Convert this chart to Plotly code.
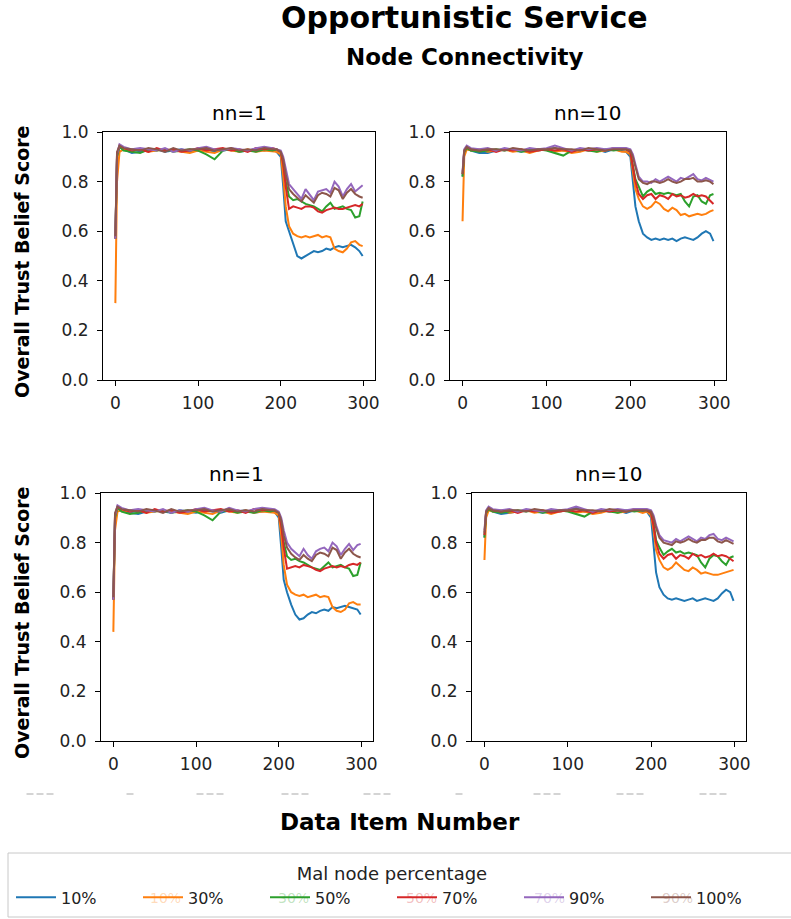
import plotly.graph_objects as go

# ---------------- data ----------------
X = [0, 2, 5, 10, 20, 30, 40, 50, 60, 70, 80, 90, 100, 110, 120, 130, 140, 150, 160, 170, 180, 190,
     195, 200, 203, 206,
     210, 215, 220, 225, 230, 235, 240, 245, 250, 255, 260, 265, 270, 275, 280, 285, 290, 295, 299]

SERIES_NAMES = ["10%", "30%", "50%", "70%", "90%", "100%"]
COLORS = ["#1f77b4", "#ff7f0e", "#2ca02c", "#d62728", "#9467bd", "#8c564b"]
GHOST_COLORS = ["rgba(255,127,14,0.30)", "rgba(44,160,44,0.30)", "rgba(214,39,40,0.30)",
                "rgba(148,103,189,0.30)", "rgba(140,86,75,0.30)"]

# top-left: nn=1
tl_10 = [0.57, 0.90, 0.94, 0.93, 0.915, 0.92, 0.925, 0.93, 0.92, 0.925, 0.93, 0.92, 0.925, 0.93, 0.92, 0.925, 0.93, 0.92, 0.925, 0.93, 0.925, 0.93,
         0.92, 0.90, 0.78, 0.64,
         0.60, 0.55, 0.50, 0.49, 0.50, 0.51, 0.52, 0.515, 0.52, 0.53, 0.525, 0.535, 0.54, 0.535, 0.54, 0.545, 0.535, 0.52, 0.50]
tl_30 = [0.31, 0.80, 0.92, 0.93, 0.925, 0.93, 0.92, 0.925, 0.93, 0.925, 0.92, 0.915, 0.925, 0.92, 0.915, 0.93, 0.925, 0.92, 0.93, 0.92, 0.925, 0.92,
         0.92, 0.91, 0.82, 0.70,
         0.62, 0.59, 0.58, 0.575, 0.58, 0.575, 0.58, 0.585, 0.575, 0.58, 0.575, 0.53, 0.52, 0.515, 0.53, 0.555, 0.56, 0.545, 0.54]
tl_50 = [0.57, 0.90, 0.94, 0.925, 0.92, 0.915, 0.93, 0.925, 0.93, 0.92, 0.925, 0.93, 0.925, 0.91, 0.89, 0.925, 0.93, 0.92, 0.925, 0.92, 0.93, 0.925,
         0.93, 0.92, 0.88, 0.80,
         0.74, 0.725, 0.73, 0.72, 0.71, 0.705, 0.70, 0.69, 0.68, 0.70, 0.715, 0.69, 0.695, 0.70, 0.69, 0.685, 0.655, 0.66, 0.72]
tl_70 = [0.57, 0.91, 0.945, 0.935, 0.925, 0.93, 0.92, 0.935, 0.925, 0.93, 0.92, 0.925, 0.935, 0.925, 0.93, 0.935, 0.925, 0.93, 0.92, 0.935, 0.93, 0.935,
         0.93, 0.92, 0.87, 0.78,
         0.69, 0.70, 0.695, 0.69, 0.70, 0.70, 0.695, 0.68, 0.675, 0.685, 0.69, 0.695, 0.69, 0.69, 0.695, 0.70, 0.705, 0.70, 0.71]
tl_90 = [0.57, 0.91, 0.95, 0.94, 0.93, 0.935, 0.93, 0.925, 0.935, 0.92, 0.93, 0.925, 0.935, 0.94, 0.93, 0.925, 0.935, 0.93, 0.925, 0.935, 0.94, 0.935,
         0.93, 0.925, 0.90, 0.85,
         0.79, 0.77, 0.75, 0.73, 0.77, 0.745, 0.725, 0.76, 0.765, 0.77, 0.755, 0.80, 0.78, 0.74, 0.77, 0.79, 0.76, 0.775, 0.785]
tl_100 = [0.58, 0.92, 0.945, 0.935, 0.93, 0.925, 0.935, 0.93, 0.92, 0.935, 0.925, 0.93, 0.93, 0.935, 0.925, 0.93, 0.935, 0.925, 0.93, 0.925, 0.935, 0.93,
          0.93, 0.92, 0.89, 0.83,
          0.77, 0.75, 0.735, 0.72, 0.745, 0.73, 0.715, 0.745, 0.755, 0.75, 0.74, 0.775, 0.765, 0.73, 0.755, 0.77, 0.75, 0.74, 0.735]

# top-right: nn=10
tr_10 = [0.82, 0.92, 0.935, 0.925, 0.915, 0.915, 0.925, 0.93, 0.925, 0.92, 0.93, 0.925, 0.93, 0.935, 0.925, 0.92, 0.93, 0.925, 0.93, 0.92, 0.93, 0.925,
         0.92, 0.90, 0.80, 0.70,
         0.64, 0.59, 0.575, 0.565, 0.57, 0.565, 0.57, 0.565, 0.57, 0.56, 0.57, 0.575, 0.57, 0.565, 0.575, 0.59, 0.60, 0.59, 0.56]
tr_30 = [0.64, 0.90, 0.93, 0.925, 0.93, 0.92, 0.925, 0.93, 0.92, 0.925, 0.915, 0.925, 0.93, 0.92, 0.925, 0.915, 0.92, 0.93, 0.92, 0.925, 0.93, 0.92,
         0.92, 0.91, 0.84, 0.77,
         0.73, 0.70, 0.69, 0.70, 0.72, 0.71, 0.69, 0.68, 0.695, 0.685, 0.665, 0.67, 0.66, 0.665, 0.67, 0.665, 0.67, 0.68, 0.685]
tr_50 = [0.82, 0.92, 0.935, 0.925, 0.92, 0.925, 0.93, 0.925, 0.93, 0.92, 0.925, 0.93, 0.925, 0.915, 0.905, 0.925, 0.93, 0.925, 0.92, 0.93, 0.925, 0.93,
         0.93, 0.92, 0.87, 0.81,
         0.78, 0.74, 0.76, 0.77, 0.75, 0.755, 0.75, 0.755, 0.75, 0.745, 0.75, 0.72, 0.70, 0.74, 0.745, 0.72, 0.71, 0.745, 0.75]
tr_70 = [0.83, 0.925, 0.94, 0.93, 0.925, 0.93, 0.92, 0.93, 0.925, 0.93, 0.92, 0.925, 0.93, 0.925, 0.93, 0.92, 0.93, 0.925, 0.93, 0.925, 0.935, 0.93,
         0.93, 0.92, 0.86, 0.80,
         0.75, 0.73, 0.745, 0.75, 0.73, 0.745, 0.74, 0.73, 0.75, 0.74, 0.745, 0.735, 0.74, 0.75, 0.74, 0.745, 0.74, 0.725, 0.71]
tr_90 = [0.84, 0.93, 0.945, 0.935, 0.93, 0.935, 0.925, 0.935, 0.93, 0.925, 0.935, 0.93, 0.935, 0.945, 0.935, 0.925, 0.935, 0.93, 0.935, 0.93, 0.935, 0.935,
         0.935, 0.93, 0.91, 0.87,
         0.82, 0.80, 0.80, 0.795, 0.81, 0.80, 0.81, 0.82, 0.81, 0.80, 0.815, 0.81, 0.82, 0.83, 0.81, 0.805, 0.815, 0.805, 0.80]
tr_100 = [0.83, 0.925, 0.94, 0.93, 0.925, 0.93, 0.93, 0.925, 0.935, 0.93, 0.925, 0.93, 0.93, 0.935, 0.93, 0.93, 0.925, 0.935, 0.93, 0.925, 0.93, 0.93,
          0.93, 0.925, 0.90, 0.86,
          0.81, 0.795, 0.79, 0.80, 0.80, 0.795, 0.80, 0.81, 0.80, 0.795, 0.80, 0.81, 0.81, 0.815, 0.80, 0.80, 0.805, 0.80, 0.79]

# bottom-left: nn=1
bl_10 = [0.57, 0.90, 0.94, 0.93, 0.92, 0.915, 0.925, 0.93, 0.925, 0.92, 0.93, 0.925, 0.92, 0.93, 0.925, 0.92, 0.93, 0.925, 0.93, 0.92, 0.925, 0.93,
         0.925, 0.90, 0.78, 0.65,
         0.60, 0.55, 0.51, 0.49, 0.495, 0.51, 0.52, 0.515, 0.525, 0.53, 0.525, 0.54, 0.535, 0.54, 0.545, 0.54, 0.535, 0.53, 0.51]
bl_30 = [0.44, 0.85, 0.925, 0.93, 0.925, 0.93, 0.92, 0.925, 0.93, 0.925, 0.92, 0.915, 0.925, 0.92, 0.915, 0.93, 0.925, 0.92, 0.93, 0.92, 0.925, 0.92,
         0.92, 0.91, 0.83, 0.71,
         0.63, 0.60, 0.59, 0.585, 0.59, 0.58, 0.585, 0.59, 0.58, 0.585, 0.58, 0.54, 0.525, 0.52, 0.53, 0.555, 0.56, 0.55, 0.55]
bl_50 = [0.57, 0.90, 0.94, 0.925, 0.915, 0.92, 0.93, 0.925, 0.93, 0.92, 0.925, 0.93, 0.925, 0.91, 0.89, 0.925, 0.93, 0.92, 0.925, 0.92, 0.93, 0.925,
         0.93, 0.92, 0.88, 0.80,
         0.745, 0.73, 0.735, 0.725, 0.72, 0.71, 0.70, 0.695, 0.69, 0.705, 0.72, 0.70, 0.705, 0.71, 0.70, 0.695, 0.665, 0.67, 0.72]
bl_70 = [0.57, 0.91, 0.945, 0.935, 0.925, 0.93, 0.92, 0.935, 0.925, 0.93, 0.92, 0.925, 0.935, 0.925, 0.93, 0.935, 0.925, 0.93, 0.92, 0.935, 0.93, 0.935,
         0.93, 0.92, 0.87, 0.78,
         0.695, 0.70, 0.705, 0.70, 0.71, 0.705, 0.70, 0.69, 0.685, 0.695, 0.70, 0.705, 0.70, 0.705, 0.70, 0.71, 0.715, 0.71, 0.72]
bl_90 = [0.57, 0.91, 0.95, 0.94, 0.93, 0.935, 0.93, 0.925, 0.935, 0.92, 0.93, 0.925, 0.935, 0.94, 0.93, 0.925, 0.94, 0.93, 0.925, 0.935, 0.94, 0.935,
         0.935, 0.925, 0.90, 0.85,
         0.80, 0.775, 0.76, 0.745, 0.775, 0.75, 0.735, 0.765, 0.775, 0.78, 0.765, 0.80, 0.785, 0.75, 0.775, 0.795, 0.77, 0.79, 0.795]
bl_100 = [0.58, 0.92, 0.945, 0.935, 0.93, 0.925, 0.935, 0.93, 0.92, 0.935, 0.925, 0.93, 0.93, 0.935, 0.925, 0.93, 0.935, 0.925, 0.93, 0.925, 0.935, 0.93,
          0.93, 0.92, 0.89, 0.83,
          0.78, 0.755, 0.74, 0.73, 0.75, 0.735, 0.725, 0.75, 0.76, 0.755, 0.745, 0.78, 0.77, 0.735, 0.76, 0.775, 0.755, 0.745, 0.74]

# bottom-right: nn=10
br_10 = [0.82, 0.92, 0.935, 0.925, 0.915, 0.92, 0.925, 0.93, 0.925, 0.92, 0.93, 0.925, 0.93, 0.94, 0.925, 0.92, 0.93, 0.925, 0.93, 0.92, 0.93, 0.925,
         0.925, 0.90, 0.80, 0.68,
         0.62, 0.59, 0.575, 0.57, 0.575, 0.57, 0.565, 0.57, 0.575, 0.565, 0.57, 0.575, 0.57, 0.565, 0.575, 0.595, 0.61, 0.60, 0.565]
br_30 = [0.73, 0.90, 0.93, 0.925, 0.93, 0.92, 0.925, 0.93, 0.92, 0.925, 0.915, 0.925, 0.93, 0.92, 0.925, 0.915, 0.92, 0.93, 0.92, 0.925, 0.93, 0.92,
         0.925, 0.91, 0.85, 0.77,
         0.73, 0.70, 0.69, 0.70, 0.72, 0.705, 0.69, 0.685, 0.70, 0.69, 0.675, 0.68, 0.675, 0.67, 0.67, 0.675, 0.68, 0.685, 0.69]
br_50 = [0.82, 0.92, 0.935, 0.925, 0.92, 0.925, 0.93, 0.925, 0.93, 0.92, 0.925, 0.93, 0.925, 0.915, 0.905, 0.925, 0.93, 0.925, 0.92, 0.93, 0.925, 0.93,
         0.93, 0.92, 0.88, 0.81,
         0.78, 0.75, 0.765, 0.775, 0.76, 0.765, 0.755, 0.76, 0.755, 0.75, 0.72, 0.70, 0.735, 0.75, 0.745, 0.725, 0.71, 0.74, 0.745]
br_70 = [0.83, 0.925, 0.94, 0.93, 0.925, 0.93, 0.92, 0.93, 0.925, 0.93, 0.92, 0.925, 0.93, 0.925, 0.93, 0.92, 0.93, 0.925, 0.93, 0.925, 0.935, 0.93,
         0.93, 0.92, 0.87, 0.80,
         0.755, 0.735, 0.75, 0.755, 0.735, 0.75, 0.745, 0.735, 0.755, 0.745, 0.75, 0.74, 0.745, 0.755, 0.745, 0.75, 0.745, 0.735, 0.725]
br_90 = [0.85, 0.93, 0.945, 0.935, 0.93, 0.935, 0.925, 0.935, 0.93, 0.925, 0.935, 0.93, 0.935, 0.945, 0.935, 0.925, 0.935, 0.93, 0.935, 0.93, 0.935, 0.935,
         0.935, 0.93, 0.91, 0.87,
         0.83, 0.81, 0.805, 0.80, 0.815, 0.805, 0.815, 0.825, 0.815, 0.805, 0.82, 0.815, 0.83, 0.835, 0.815, 0.81, 0.82, 0.81, 0.805]
br_100 = [0.84, 0.925, 0.94, 0.93, 0.925, 0.93, 0.93, 0.925, 0.935, 0.93, 0.925, 0.93, 0.93, 0.935, 0.93, 0.93, 0.925, 0.935, 0.93, 0.925, 0.93, 0.93,
          0.93, 0.925, 0.90, 0.86,
          0.82, 0.80, 0.795, 0.79, 0.805, 0.80, 0.805, 0.815, 0.805, 0.80, 0.81, 0.81, 0.82, 0.82, 0.805, 0.80, 0.81, 0.80, 0.795]

PANEL_TITLES = ["nn=1", "nn=10", "nn=1", "nn=10"]
PANELS = [
    [tl_10, tl_30, tl_50, tl_70, tl_90, tl_100],
    [tr_10, tr_30, tr_50, tr_70, tr_90, tr_100],
    [bl_10, bl_30, bl_50, bl_70, bl_90, bl_100],
    [br_10, br_30, br_50, br_70, br_90, br_100],
]
X_TICKS = [0, 100, 200, 300]
Y_TICKS = [0.0, 0.2, 0.4, 0.6, 0.8, 1.0]

# ---------------- layout geometry (pixels) ----------------
W, H = 791, 919
FONT = "DejaVu Sans"
# (left, right, top, bottom) pixel frames of the four axes
FRAMES = [(103, 375, 132, 380), (450, 726, 132, 380), (101, 373, 493, 741), (472, 746, 493, 741)]
LEGEND_STEP = 128   # pixel spacing of legend entries
LEGEND_X = 11       # left of legend block
BOX_X0 = 8          # left of legend frame


def px(xp):
    return xp / W


def py(yp):
    return 1 - yp / H


fig = go.Figure()

for i, series in enumerate(PANELS):
    ax = "" if i == 0 else str(i + 1)
    for name, color, vals in zip(SERIES_NAMES, COLORS, series):
        fig.add_trace(go.Scatter(
            x=X, y=vals, mode="lines", name=name,
            line=dict(color=color, width=2),
            xaxis="x" + ax, yaxis="y" + ax,
            showlegend=(i == 0), legendgroup=name,
        ))

axis_common = dict(
    showline=True, mirror=True, linecolor="black", linewidth=1,
    ticks="outside", ticklen=5, tickwidth=1, tickcolor="black",
    showgrid=False, zeroline=False,
    tickfont=dict(family=FONT, size=17, color="#222222"),
)

layout = dict(
    width=W, height=H,
    margin=dict(l=0, r=0, t=0, b=0, autoexpand=False),
    paper_bgcolor="white", plot_bgcolor="white",
    font=dict(family=FONT, color="black"),
)

annotations = []
shapes = []
for i, (l, r, t, b) in enumerate(FRAMES):
    ax = "" if i == 0 else str(i + 1)
    layout["xaxis" + ax] = dict(
        axis_common, domain=[px(l), px(r)], range=[-14.95, 313.95],
        tickvals=X_TICKS, anchor="y" + ax, ticklabelstandoff=3,
    )
    layout["yaxis" + ax] = dict(
        axis_common, domain=[py(b), py(t)], range=[0, 1],
        tickvals=Y_TICKS, tickformat=".1f", anchor="x" + ax, ticklabelstandoff=5,
    )
    annotations.append(dict(
        text=PANEL_TITLES[i], x=px((l + r) / 2), y=py(t - 19),
        xref="paper", yref="paper", xanchor="center", yanchor="middle",
        showarrow=False, font=dict(family=FONT, size=20, color="black"),
    ))

# row y labels
for (t, b) in [(132, 380), (493, 741)]:
    annotations.append(dict(
        text="<b>Overall Trust Belief Score</b>", x=px(22), y=py((t + b) / 2 + 6),
        xref="paper", yref="paper", xanchor="center", yanchor="middle",
        textangle=-90, showarrow=False, font=dict(family=FONT, size=19, color="black"),
    ))

annotations += [
    dict(text="<b>Opportunistic Service</b>", x=px(465), y=py(18), xref="paper", yref="paper",
         xanchor="center", yanchor="middle", showarrow=False,
         font=dict(family=FONT, size=30, color="black")),
    dict(text="<b>Node Connectivity</b>", x=px(465), y=py(57), xref="paper", yref="paper",
         xanchor="center", yanchor="middle", showarrow=False,
         font=dict(family=FONT, size=23, color="black")),
    dict(text="<b>Data Item Number</b>", x=px(400), y=py(822), xref="paper", yref="paper",
         xanchor="center", yanchor="middle", showarrow=False,
         font=dict(family=FONT, size=23, color="black")),
]

# faint ghost labels seen behind the legend samples
for k, gc in enumerate(GHOST_COLORS):
    annotations.append(dict(
        text=SERIES_NAMES[k], x=px(LEGEND_X + 26 + LEGEND_STEP * (k + 1)), y=py(898),
        xref="paper", yref="paper", xanchor="center", yanchor="middle",
        showarrow=False, font=dict(family=FONT, size=14, color=gc),
    ))

# faint ghost tick marks row below the bottom axes
for cx, n in [(40, 3), (130, 1), (210, 3), (295, 3), (377, 3), (459, 1), (547, 3), (630, 3), (713, 3)]:
    start = cx - (n * 10 - 3) / 2
    for j in range(n):
        shapes.append(dict(
            type="line", xref="paper", yref="paper",
            x0=px(start + 10 * j), x1=px(start + 10 * j + 7), y0=py(794), y1=py(794),
            line=dict(color="#d4d4d4", width=2),
        ))

# legend frame (extends past the right edge like the reference)
shapes.append(dict(
    type="rect", xref="paper", yref="paper",
    x0=px(BOX_X0), x1=px(W + 6), y0=py(917), y1=py(853),
    line=dict(color="#c8c8c8", width=1), fillcolor="rgba(0,0,0,0)",
))

layout["annotations"] = annotations
layout["shapes"] = shapes

layout["legend"] = dict(
    orientation="h", x=px(LEGEND_X), xanchor="left", y=py(915), yanchor="bottom",
    borderwidth=0, bgcolor="rgba(0,0,0,0)",
    font=dict(family=FONT, size=16, color="#222222"),
    title=dict(text="Mal node percentage", side="top center",
               font=dict(family=FONT, size=18, color="#222222")),
    entrywidth=LEGEND_STEP - 56, entrywidthmode="pixels", itemwidth=40,
)

fig.update_layout(**layout)
fig.write_html("out.html")
